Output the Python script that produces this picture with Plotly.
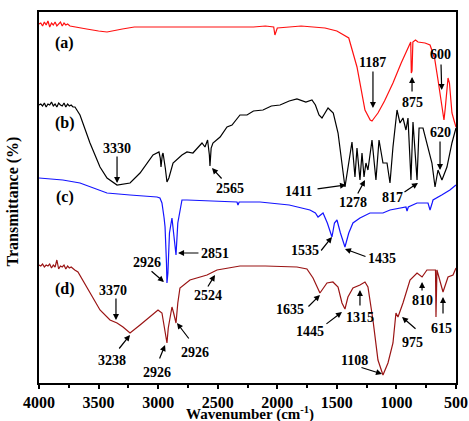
import plotly.graph_objects as go

# ---- data (wavenumber, transmittance a.u.) ----
a_w = [4000, 3985, 3970, 3955, 3940, 3925, 3910, 3895, 3880, 3865, 3850, 3835, 3820, 3805, 3790, 3775, 3760, 3740, 3700, 3600, 3500, 3429, 3300, 3200, 3000, 2800, 2500, 2200, 2100, 2030, 2020, 2010, 2000, 1900, 1800, 1700, 1600, 1500, 1400, 1331, 1264, 1220, 1205, 1180, 1155, 1100, 1029, 960, 911, 890, 880, 875, 869, 862, 840, 819, 760, 718, 680, 651, 620, 601, 590, 567, 555, 534, 515, 500]
a_t = [359, 360, 357, 361, 358, 362, 356, 360, 358, 361, 357, 359, 361, 357, 360, 358, 359, 357, 356, 354, 352, 351, 354, 356, 356, 356, 356, 356, 357, 356, 348, 352, 355, 356, 357, 356, 355, 352, 345, 316, 273, 263, 262, 266, 270, 282, 300, 320, 333, 340, 341, 310, 312, 341, 343, 341, 340, 338, 325, 303, 275, 263, 275, 305, 300, 270, 262, 256]

b_w = [4000, 3985, 3970, 3955, 3940, 3925, 3910, 3895, 3880, 3865, 3850, 3835, 3820, 3805, 3790, 3775, 3760, 3745, 3730, 3715, 3698, 3656, 3572, 3488, 3429, 3345, 3236, 3152, 3043, 2993, 2982, 2976, 2965, 2959, 2940, 2926, 2910, 2875, 2800, 2758, 2708, 2632, 2607, 2585, 2570, 2565, 2555, 2540, 2480, 2422, 2380, 2313, 2254, 2200, 2120, 2050, 1977, 1900, 1835, 1760, 1709, 1680, 1650, 1625, 1574, 1530, 1490, 1457, 1432, 1373, 1348, 1331, 1306, 1289, 1272, 1256, 1239, 1205, 1188, 1172, 1146, 1113, 1079, 1054, 1029, 995, 970, 945, 920, 903, 878, 861, 827, 810, 777, 735, 702, 676, 651, 618, 576, 534, 509, 500]
b_t = [278, 279, 277, 280, 276, 279, 278, 281, 277, 279, 276, 280, 278, 277, 280, 276, 279, 277, 278, 276, 276, 268, 240, 216, 205, 198, 200, 210, 228, 231, 225, 216, 228, 230, 215, 201, 205, 220, 228, 231, 230, 240, 236, 243, 228, 217, 235, 240, 246, 256, 258, 268, 268, 272, 273, 277, 278, 282, 284, 281, 283, 278, 268, 265, 275, 270, 250, 216, 196, 241, 206, 235, 203, 230, 206, 220, 213, 243, 223, 203, 243, 220, 220, 200, 236, 273, 260, 265, 253, 265, 203, 261, 203, 255, 255, 236, 220, 196, 213, 203, 216, 240, 253, 255]

c_w = [4000, 3800, 3656, 3429, 3236, 3010, 2985, 2968, 2950, 2942, 2930, 2926, 2918, 2905, 2884, 2870, 2850, 2835, 2800, 2758, 2500, 2338, 2330, 2320, 2145, 1900, 1726, 1680, 1658, 1616, 1580, 1541, 1520, 1499, 1470, 1432, 1400, 1365, 1306, 1222, 1113, 1054, 920, 911, 900, 827, 735, 718, 700, 693, 620, 551, 500]
c_t = [205, 203, 200, 190, 188, 186, 185, 180, 165, 156, 120, 100, 110, 150, 165, 150, 128, 160, 183, 183, 182, 181, 178, 181, 181, 178, 173, 170, 166, 170, 160, 146, 160, 163, 150, 136, 150, 160, 165, 170, 170, 173, 176, 172, 176, 180, 180, 173, 180, 183, 188, 193, 198]

d_w = [4000, 3985, 3970, 3955, 3940, 3925, 3910, 3895, 3880, 3865, 3850, 3835, 3820, 3805, 3790, 3775, 3760, 3745, 3730, 3715, 3700, 3673, 3572, 3488, 3404, 3345, 3295, 3236, 3152, 3068, 3001, 2968, 2959, 2940, 2926, 2915, 2901, 2884, 2870, 2850, 2835, 2817, 2733, 2590, 2506, 2313, 2100, 1835, 1751, 1700, 1642, 1583, 1533, 1490, 1457, 1432, 1407, 1365, 1306, 1264, 1239, 1197, 1155, 1113, 1071, 1029, 1004, 987, 945, 886, 827, 785, 744, 693, 672, 668, 664, 660, 609, 567, 525, 500]
d_t = [118, 117, 119, 116, 118, 117, 119, 115, 118, 116, 123, 114, 117, 116, 118, 114, 117, 115, 116, 114, 113, 111, 90, 73, 63, 60, 56, 50, 58, 66, 73, 70, 63, 50, 40, 55, 63, 76, 70, 60, 80, 95, 103, 108, 113, 117, 117, 116, 114, 105, 90, 100, 101, 96, 80, 74, 86, 95, 98, 101, 96, 63, 23, 8, 20, 40, 70, 66, 80, 103, 110, 106, 113, 113, 113, 66, 113, 113, 91, 106, 108, 115]

x_ticks = [4000, 3500, 3000, 2500, 2000, 1500, 1000, 500]

# curve labels: (text, x, y)
curve_labels = [("(a)", 3782, 340), ("(b)", 3782, 260), ("(c)", 3782, 186), ("(d)", 3782, 94)]

# peak labels: (text, text_x, text_y, tail_x, tail_y, tip_x, tip_y)
peaks = [
    ("3330", 3345, 235, 3345, 228, 3345, 200),
    ("2565", 2397, 195, 2456, 203, 2548, 215),
    ("1187", 1197, 321, 1197, 313, 1197, 275),
    ("875", 869, 281, 869, 290, 869, 306),
    ("600", 626, 329, 626, 320, 620, 293),
    ("1411", 1826, 192, 1675, 194, 1423, 198),
    ("1278", 1365, 181, 1331, 188, 1264, 203),
    ("817", 1037, 186, 945, 190, 819, 200),
    ("620", 634, 251, 634, 243, 634, 213),
    ("2926", 3094, 121, 3068, 113, 2951, 101),
    ("2851", 2523, 130, 2649, 130, 2833, 130),
    ("1535", 1767, 133, 1642, 131, 1541, 146),
    ("1435", 1121, 125, 1247, 126, 1432, 134),
    ("2524", 2582, 88, 2590, 95, 2523, 108),
    ("3370", 3379, 93, 3354, 86, 3354, 63),
    ("3238", 3387, 23, 3337, 33, 3236, 48),
    ("2926", 3010, 11, 2993, 23, 2942, 38),
    ("2926", 2691, 31, 2733, 43, 2842, 60),
    ("1635", 1893, 74, 1751, 75, 1642, 88),
    ("1445", 1726, 52, 1600, 58, 1457, 71),
    ("1315", 1306, 66, 1306, 76, 1306, 93),
    ("1108", 1348, 23, 1306, 16, 1121, 9),
    ("975", 861, 41, 827, 53, 953, 66),
    ("810", 785, 83, 785, 91, 785, 101),
    ("615", 618, 55, 609, 68, 609, 86),
]

FONT = "Liberation Serif, Times New Roman, serif"

fig = go.Figure()
for xs, ys, col in [(a_w, a_t, "#ff1010"), (b_w, b_t, "#000000"),
                    (c_w, c_t, "#1414ff"), (d_w, d_t, "#9a1414")]:
    fig.add_trace(go.Scatter(x=xs, y=ys, mode="lines",
                             line=dict(color=col, width=1.2), showlegend=False,
                             hoverinfo="skip"))

ann = []
for t, x, y in curve_labels:
    ann.append(dict(x=x, y=y, xref="x", yref="y", text="<b>" + t + "</b>", showarrow=False,
                    font=dict(family=FONT, size=16, color="black")))
for t, tx, ty, ax, ay, hx, hy in peaks:
    ann.append(dict(x=tx, y=ty, xref="x", yref="y", text="<b>" + t + "</b>", showarrow=False,
                    font=dict(family=FONT, size=14, color="black")))
    ann.append(dict(x=hx, y=hy, xref="x", yref="y", ax=ax, ay=ay,
                    axref="x", ayref="y", text="", showarrow=True,
                    arrowhead=2, arrowsize=1, arrowwidth=1.2, arrowcolor="black",
                    standoff=0, startstandoff=0))
ann.append(dict(x=-0.088, y=0.49, xref="paper", yref="paper",
                text="<b>Transmittance (%)</b>", textangle=-90, showarrow=False,
                font=dict(family=FONT, size=16, color="black")))
ann.append(dict(x=0.506, y=-0.081, xref="paper", yref="paper", yanchor="middle",
                text="<b>Wavenumber (cm<sup>-1</sup>)</b>", showarrow=False,
                font=dict(family=FONT, size=15, color="black")))

fig.update_layout(
    width=469, height=421,
    margin=dict(l=39, r=13, t=12, b=38),
    paper_bgcolor="white", plot_bgcolor="white",
    annotations=ann,
    xaxis=dict(range=[4000, 500], tickvals=x_ticks,
               ticktext=["<b>%d</b>" % v for v in x_ticks],
               ticks="outside", ticklen=4, automargin=False,
               tickwidth=1.5, tickcolor="black",
               minor=dict(dtick=250, tick0=500, ticks="outside", ticklen=3,
                          tickwidth=1.5, tickcolor="black"),
               showline=True, linewidth=1.6, linecolor="black", mirror=True,
               showgrid=False, zeroline=False,
               tickfont=dict(family=FONT, size=16, color="black")),
    yaxis=dict(range=[0, 371], showticklabels=False, ticks="", automargin=False,
               showline=True, linewidth=1.6, linecolor="black", mirror=True,
               showgrid=False, zeroline=False),
)
fig.write_html("out.html")
